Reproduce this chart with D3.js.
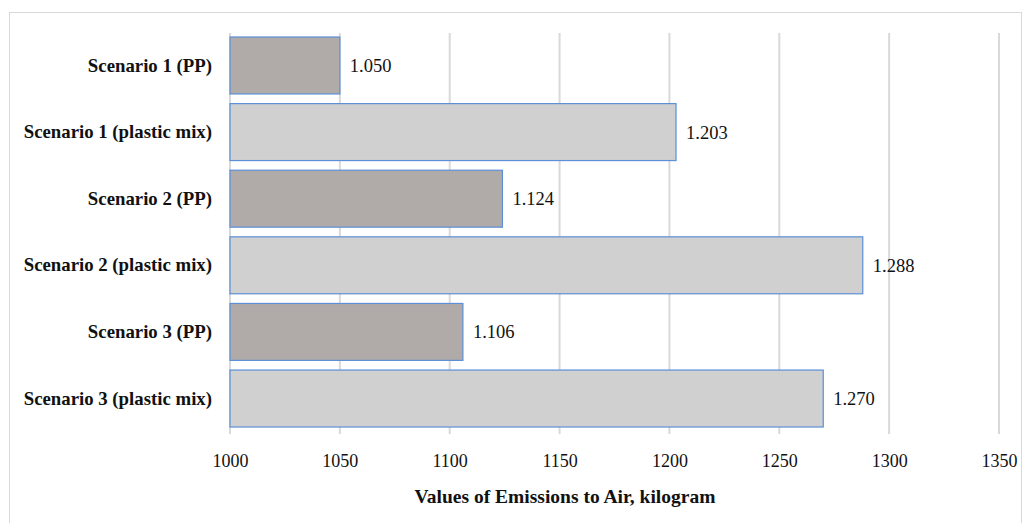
<!DOCTYPE html>
<html><head><meta charset="utf-8">
<script src="https://cdn.jsdelivr.net/npm/d3@7"></script>
<style>body{margin:0;background:#fff}svg{display:block}</style>
</head><body>
<svg id="c" width="1024" height="523"></svg>
<script>
const categories = ["Scenario 1 (PP)","Scenario 1 (plastic mix)","Scenario 2 (PP)","Scenario 2 (plastic mix)","Scenario 3 (PP)","Scenario 3 (plastic mix)"];
const values = [1050, 1203, 1124, 1288, 1106, 1270];
const valueLabels = ["1.050","1.203","1.124","1.288","1.106","1.270"];
const kinds = ["PP","mix","PP","mix","PP","mix"];
const xTicks = [1000,1050,1100,1150,1200,1250,1300,1350];
const axisTitle = "Values of Emissions to Air, kilogram";

const svg = d3.select("#c");
const font = "'Liberation Serif', serif";
svg.append("rect").attr("x",9.5).attr("y",12.5).attr("width",1012).attr("height",512)
  .attr("fill","#fff").attr("stroke","#d9d9d9");

const x = d3.scaleLinear().domain([1000,1350]).range([230,999]);
const y = d3.scaleBand().domain(categories).range([32,432]).paddingInner(0.145).paddingOuter(0.075);

const grid = svg.append("g");
grid.selectAll("line").data(xTicks).join("line")
  .attr("x1",d=>x(d)).attr("x2",d=>x(d)).attr("y1",33).attr("y2",434)
  .attr("stroke","#d9d9d9").attr("stroke-width",2);

const col = {PP:"#b0aaa8", mix:"#d0d0d0"};
svg.append("g").selectAll("rect").data(categories).join("rect")
  .attr("x",x(1000)).attr("y",d=>y(d))
  .attr("width",(d,i)=>x(values[i])-x(1000)).attr("height",y.bandwidth())
  .attr("fill",(d,i)=>col[kinds[i]]).attr("stroke","#5b8fd6").attr("stroke-width",1.2);

svg.append("g").selectAll("text").data(categories).join("text")
  .attr("x",(d,i)=>x(values[i])+10).attr("y",d=>y(d)+y.bandwidth()/2)
  .attr("dy","0.35em").attr("font-family",font).attr("font-size",18.5).attr("fill","#111")
  .text((d,i)=>valueLabels[i]);

const yAxis = svg.append("g").attr("transform","translate(212,0)")
  .call(d3.axisLeft(y).tickSize(0).tickPadding(0));
yAxis.select(".domain").remove();
yAxis.selectAll("text").attr("font-family",font).attr("font-size",18.8).attr("font-weight","bold").attr("fill","#111");

const xAxis = svg.append("g").attr("transform","translate(0,431)")
  .call(d3.axisBottom(x).tickValues(xTicks).tickSize(0).tickPadding(23).tickFormat(d3.format("d")));
xAxis.select(".domain").remove();
xAxis.selectAll("text").attr("font-family",font).attr("font-size",18).attr("fill","#111");

svg.append("text").attr("x",565).attr("y",503).attr("text-anchor","middle")
  .attr("font-family",font).attr("font-size",19.5).attr("font-weight","bold").attr("fill","#111")
  .text(axisTitle);
</script>
</body></html>
